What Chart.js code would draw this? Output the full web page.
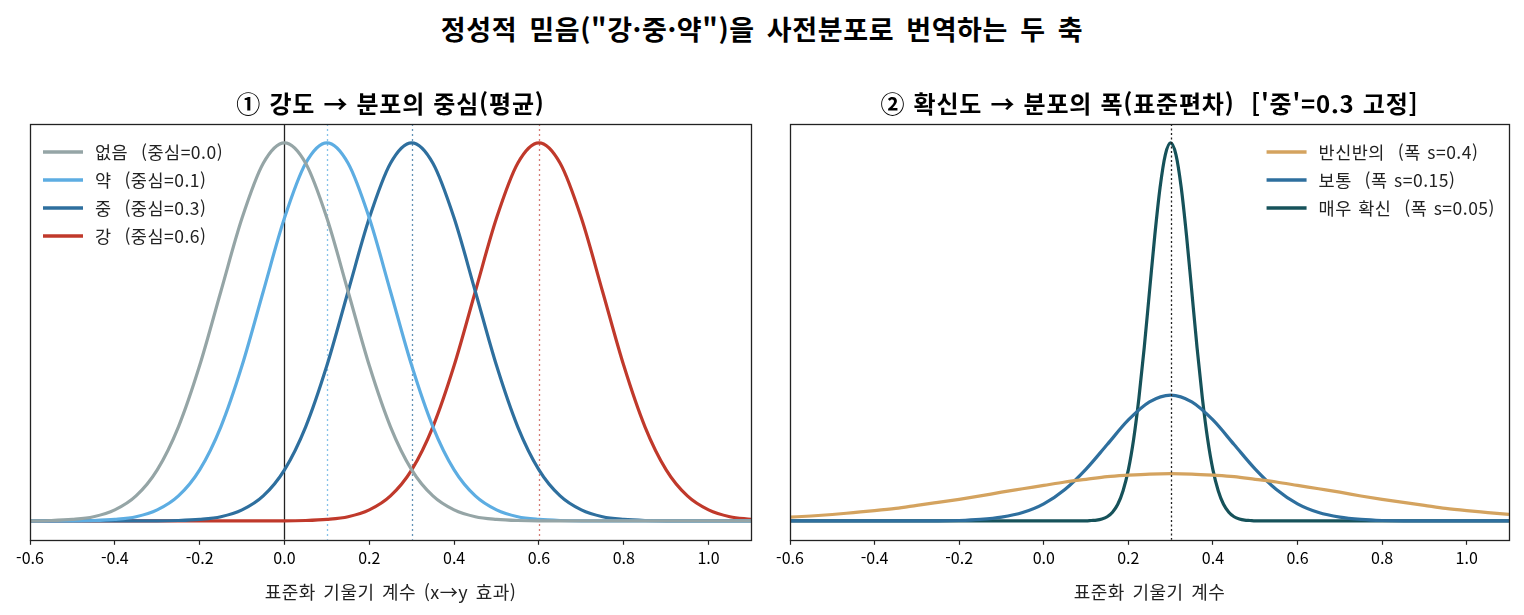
<!DOCTYPE html>
<html lang="ko">
<head>
<meta charset="utf-8">
<title>정성적 믿음을 사전분포로 번역하는 두 축</title>
<script src="https://cdn.jsdelivr.net/npm/chart.js@4.4.1/dist/chart.umd.min.js"></script>
<style>
  html, body { margin: 0; padding: 0; background: #fff; }
  #page { position: relative; width: 1524px; height: 615px; overflow: hidden; }
  #main-title {
    position: absolute; left: 0; top: 9px; width: 1524px;
    text-align: center; line-height: 36px;
    font: bold 27px "Noto Sans CJK KR", sans-serif; color: #000;
    letter-spacing: 0.6px; word-spacing: 4px;
  }
  .panel { position: absolute; top: 0; width: 762px; height: 615px; }
</style>
</head>
<body>
<div id="page">
  <div id="main-title">정성적 믿음("강·중·약")을 사전분포로 번역하는 두 축</div>
  <div class="panel" style="left:0"><canvas id="left-chart"></canvas></div>
  <div class="panel" style="left:762px"><canvas id="right-chart"></canvas></div>
</div>

<script>
// ---- values ----

// x positions where the curves were read (step 0.05)
const xGrid = [-0.6, -0.55, -0.5, -0.45, -0.4, -0.35, -0.3, -0.25, -0.2, -0.15, -0.1, -0.05,
               0.0, 0.05, 0.1, 0.15, 0.2, 0.25, 0.3, 0.35, 0.4, 0.45, 0.5, 0.55,
               0.6, 0.65, 0.7, 0.75, 0.8, 0.85, 0.9, 0.95, 1.0, 1.05, 1.1];
const xTicks = [-0.6, -0.4, -0.2, 0.0, 0.2, 0.4, 0.6, 0.8, 1.0];

// panel 1: strength -> centre (heights relative to peak)
const strengthLabels = ['없음  (중심=0.0)', '약  (중심=0.1)', '중  (중심=0.3)', '강  (중심=0.6)'];
const strengthCenters = [0.0, 0.1, 0.3, 0.6];
const noneY = [0.000, 0.001, 0.004, 0.011, 0.029, 0.066, 0.135, 0.249, 0.411, 0.607, 0.801, 0.946,
               1.000, 0.946, 0.801, 0.607, 0.411, 0.249, 0.135, 0.066, 0.029, 0.011, 0.004, 0.001,
               0, 0, 0, 0, 0, 0, 0, 0, 0, 0, 0];
const weakY = [0, 0, 0, 0.001, 0.004, 0.011, 0.029, 0.066, 0.135, 0.249, 0.411, 0.607,
               0.801, 0.946, 1.000, 0.946, 0.801, 0.607, 0.411, 0.249, 0.135, 0.066, 0.029, 0.011,
               0.004, 0.001, 0, 0, 0, 0, 0, 0, 0, 0, 0];
const midY = [0, 0, 0, 0, 0, 0, 0, 0.001, 0.004, 0.011, 0.029, 0.066,
              0.135, 0.249, 0.411, 0.607, 0.801, 0.946, 1.000, 0.946, 0.801, 0.607, 0.411, 0.249,
              0.135, 0.066, 0.029, 0.011, 0.004, 0.001, 0, 0, 0, 0, 0];
const strongY = [0, 0, 0, 0, 0, 0, 0, 0, 0, 0, 0, 0,
                 0, 0.001, 0.004, 0.011, 0.029, 0.066, 0.135, 0.249, 0.411, 0.607, 0.801, 0.946,
                 1.000, 0.946, 0.801, 0.607, 0.411, 0.249, 0.135, 0.066, 0.029, 0.011, 0.004];

// panel 2: certainty -> width, centre fixed at 0.3
const certaintyLabels = ['반신반의  (폭 s=0.4)', '보통  (폭 s=0.15)', '매우 확신  (폭 s=0.05)'];
const certaintyCenter = 0.3;
const halfY = [0.010, 0.013, 0.017, 0.022, 0.027, 0.033, 0.041, 0.049, 0.057, 0.066, 0.076, 0.085,
               0.094, 0.103, 0.110, 0.117, 0.121, 0.124, 0.125, 0.124, 0.121, 0.117, 0.110, 0.103,
               0.094, 0.085, 0.076, 0.066, 0.057, 0.049, 0.041, 0.033, 0.027, 0.022, 0.017];
const normalY = [0, 0, 0, 0, 0, 0, 0, 0.000, 0.001, 0.004, 0.010, 0.022,
                 0.045, 0.083, 0.137, 0.202, 0.267, 0.315, 0.333, 0.315, 0.267, 0.202, 0.137, 0.083,
                 0.045, 0.022, 0.010, 0.004, 0.001, 0.000, 0, 0, 0, 0, 0];
// the narrow curve was read on a finer grid around its peak
const sureX = [-0.6, 0.1, 0.1125, 0.125, 0.1375, 0.15, 0.1625, 0.175, 0.1875, 0.2, 0.2125, 0.225,
               0.2375, 0.25, 0.2625, 0.275, 0.2875, 0.3, 0.3125, 0.325, 0.3375, 0.35, 0.3625,
               0.375, 0.3875, 0.4, 0.4125, 0.425, 0.4375, 0.45, 0.4625, 0.475, 0.4875, 0.5, 1.1];
const sureY = [0, 0.000, 0.001, 0.002, 0.005, 0.011, 0.023, 0.044, 0.080, 0.135, 0.216, 0.325,
               0.458, 0.607, 0.755, 0.882, 0.969, 1.000, 0.969, 0.882, 0.755, 0.607, 0.458,
               0.325, 0.216, 0.135, 0.080, 0.044, 0.023, 0.011, 0.005, 0.002, 0.001, 0.000, 0];

// ---- styling ----
const FONT = '"Noto Sans CJK KR", "Noto Sans", sans-serif';
const strengthColors = ['#95a5a6', '#5dade2', '#2e6f9e', '#c0392b'];
const guideColors = ['#222222', 'rgba(93,173,226,0.75)', 'rgba(46,111,158,0.75)', 'rgba(192,57,43,0.65)'];
const certaintyColors = ['#d4a35f', '#2e6f9e', '#16525a'];

function toPoints(xs, ys) {
    return xs.map((x, i) => ({ x: x, y: ys[i] }));
}

function curve(label, color, points) {
    return {
        label: label,
        data: points,
        borderColor: color,
        backgroundColor: color,
        borderWidth: 3.2,
        pointRadius: 0,
        fill: false,
        cubicInterpolationMode: 'monotone'
    };
}

// text with spacing close to the reference font
function spacedText(ctx, text, x, y, font, letter, word) {
    ctx.font = font;
    if ('letterSpacing' in ctx) ctx.letterSpacing = letter + 'px';
    if ('wordSpacing' in ctx) ctx.wordSpacing = word + 'px';
    ctx.fillText(text, x, y);
}

/**
 * Panel decorations: subplot title, axis title, guide lines, frame and legend
 */
function panelPlugin(opts) {
    function drawGuides(chart, list) {
        const ctx = chart.ctx;
        const area = chart.chartArea;
        const xs = chart.scales.x;
        list.forEach(g => {
            const px = Math.round(xs.getPixelForValue(g.x)) + 0.5;
            ctx.save();
            ctx.strokeStyle = g.color;
            ctx.lineWidth = g.width;
            ctx.setLineDash(g.dash);
            ctx.beginPath();
            ctx.moveTo(px, area.top);
            ctx.lineTo(px, area.bottom);
            ctx.stroke();
            ctx.restore();
        });
    }

    return {
        id: 'panel_' + opts.id,
        beforeDatasetsDraw(chart) {
            drawGuides(chart, opts.guidesBelow || []);
        },
        afterDatasetsDraw(chart) {
            const ctx = chart.ctx;
            const area = chart.chartArea;
            drawGuides(chart, opts.guidesAbove || []);

            // frame
            ctx.save();
            ctx.strokeStyle = '#222';
            ctx.lineWidth = 1.3;
            ctx.strokeRect(Math.round(area.left) + 0.5, Math.round(area.top) + 0.5,
                           Math.round(area.right - area.left), Math.round(area.bottom - area.top));
            ctx.restore();

            // legend
            ctx.save();
            const legendFont = '17.5px ' + FONT;
            ctx.font = legendFont;
            if ('letterSpacing' in ctx) ctx.letterSpacing = '0.5px';
            if ('wordSpacing' in ctx) ctx.wordSpacing = '2px';
            ctx.textBaseline = 'middle';
            const sets = chart.data.datasets;
            const lineLen = 40, gap = 12, rowH = 28;
            let maxW = 0;
            sets.forEach(ds => { maxW = Math.max(maxW, ctx.measureText(ds.label).width); });
            let x0 = area.left + 13;
            if (opts.legendRight) {
                x0 = area.right - 14 - (lineLen + gap + maxW);
            }
            sets.forEach((ds, i) => {
                const y = area.top + 28 + i * rowH;
                ctx.strokeStyle = ds.borderColor;
                ctx.lineWidth = 3.5;
                ctx.beginPath();
                ctx.moveTo(x0, y);
                ctx.lineTo(x0 + lineLen, y);
                ctx.stroke();
                ctx.fillStyle = '#222';
                spacedText(ctx, ds.label, x0 + lineLen + gap, y, legendFont, 0.5, 2);
            });
            ctx.restore();
        },
        afterDraw(chart) {
            const ctx = chart.ctx;
            const area = chart.chartArea;
            const cx = (area.left + area.right) / 2;
            ctx.save();
            ctx.textAlign = 'center';
            ctx.textBaseline = 'middle';
            ctx.fillStyle = '#000';
            spacedText(ctx, opts.title, cx, area.top - 20, 'bold 24px ' + FONT, 0.8, 2);
            ctx.fillStyle = '#222';
            spacedText(ctx, opts.axisTitle, cx, area.bottom + 52, '18px ' + FONT, 0.5, 3);
            ctx.restore();
        }
    };
}

function panelOptions(padding) {
    return {
        responsive: true,
        maintainAspectRatio: false,
        animation: false,
        devicePixelRatio: 1,
        layout: { padding: padding },
        plugins: {
            legend: { display: false },
            title: { display: false },
            tooltip: { enabled: false }
        },
        scales: {
            x: {
                type: 'linear',
                min: -0.6,
                max: 1.1,
                afterBuildTicks: scale => {
                    scale.ticks = xTicks.map(v => ({ value: v }));
                },
                border: { display: false },
                grid: {
                    display: true,
                    drawOnChartArea: false,
                    drawTicks: true,
                    tickLength: 5,
                    tickWidth: 1.2,
                    tickColor: '#222'
                },
                ticks: {
                    autoSkip: false,
                    maxRotation: 0,
                    padding: 4,
                    color: '#000',
                    font: { family: FONT, size: 16 },
                    callback: v => Number(v).toFixed(1)
                },
                title: { display: false }
            },
            y: {
                display: false,
                min: -0.05,
                max: 1.05
            }
        }
    };
}

// Left panel
new Chart(document.getElementById('left-chart'), {
    type: 'line',
    data: {
        datasets: [
            curve(strengthLabels[0], strengthColors[0], toPoints(xGrid, noneY)),
            curve(strengthLabels[1], strengthColors[1], toPoints(xGrid, weakY)),
            curve(strengthLabels[2], strengthColors[2], toPoints(xGrid, midY)),
            curve(strengthLabels[3], strengthColors[3], toPoints(xGrid, strongY))
        ]
    },
    options: panelOptions({ left: 30, right: 11, top: 124, bottom: 43 }),
    plugins: [panelPlugin({
        id: 'left',
        title: '① 강도 → 분포의 중심(평균)',
        axisTitle: '표준화 기울기 계수 (x→y 효과)',
        guidesBelow: strengthCenters.map((c, i) => ({
            x: c,
            color: guideColors[i],
            width: 1.3,
            dash: i === 0 ? [] : [2, 3]
        }))
    })]
});

// Right panel
new Chart(document.getElementById('right-chart'), {
    type: 'line',
    data: {
        datasets: [
            curve(certaintyLabels[0], certaintyColors[0], toPoints(xGrid, halfY)),
            curve(certaintyLabels[1], certaintyColors[1], toPoints(xGrid, normalY)),
            curve(certaintyLabels[2], certaintyColors[2], toPoints(sureX, sureY))
        ]
    },
    options: panelOptions({ left: 28, right: 15, top: 124, bottom: 43 }),
    plugins: [panelPlugin({
        id: 'right',
        title: "② 확신도 → 분포의 폭(표준편차)  ['중'=0.3 고정]",
        axisTitle: '표준화 기울기 계수',
        legendRight: true,
        guidesAbove: [{ x: certaintyCenter, color: '#222', width: 1.3, dash: [2, 2.5] }]
    })]
});
</script>
</body>
</html>
